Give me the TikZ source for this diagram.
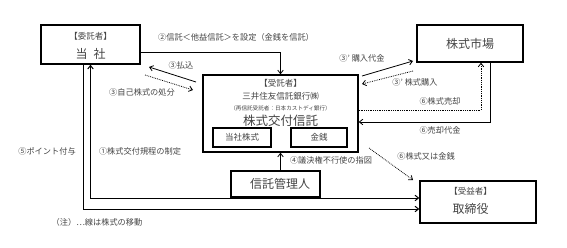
\documentclass[tikz,border=0pt]{standalone}
\usepackage{fontspec}
\setmainfont{Noto Sans CJK JP}
\usepackage{xcolor}
\usetikzlibrary{arrows.meta,positioning}
\definecolor{TrustInk}{HTML}{444444}
\tikzset{
  >={Straight Barb[length=3.5pt,width=5.5pt]},
  partybox/.style={draw, line width=1.4pt, inner sep=0pt},
  assetbox/.style={draw, line width=1.1pt, inner sep=0pt, minimum height=19pt,
                font=\fontsize{8.5}{10}\selectfont, text=TrustInk},
  headtext/.style={inner sep=0pt, font=\fontsize{8.5}{10}\selectfont, text=TrustInk},
  nametext/.style={inner sep=0pt, font=\fontsize{12}{14}\selectfont, text=TrustInk},
  lbl/.style={inner sep=0.5pt, font=\fontsize{8.2}{10}\selectfont, text=TrustInk},
  flow/.style={->, line width=0.8pt},
  twoway/.style={<->, line width=1pt},
  share/.style={->, line width=0.8pt, densely dotted}
}
\begin{document}
\begin{tikzpicture}[x=1pt, y=-1pt]
  \useasboundingbox (0,0) rectangle (567,248);
  % parties
  \node[partybox, minimum width=99pt, minimum height=39pt] (itaku) at (90.5,44.5) {};
  \node[headtext] (itaku-r) at (90.5,36) {【委託者】};
  \node[nametext] (itaku-n) at (90.5,53.5) {当\hspace{0.5em}社};

  \node[partybox, minimum width=155pt, minimum height=77pt] (trust) at (280.5,113.5) {};
  \node[headtext] (trust-r) at (280.5,83) {【受託者】};
  \node[headtext] (trust-b) at (280.5,96) {三井住友信託銀行㈱};
  \node[inner sep=0pt, font=\fontsize{5.6}{6}\selectfont, text=TrustInk] (trust-s) at (280.5,108)
    {（再信託受託者：日本カストディ銀行）};
  \node[nametext, font=\fontsize{12.5}{14}\selectfont] (trust-n) at (280.5,120.5) {株式交付信託};
  \node[assetbox, minimum width=58pt] (stock) at (242,137.5) {当社株式};
  \node[assetbox, minimum width=56pt] (cash) at (319,137.5) {金銭};

  \node[partybox, minimum width=89pt, minimum height=26pt] (kanri) at (275.5,184) {};
  \node[nametext] (kanri-n) at (280,184) {信託管理人};

  \node[partybox, minimum width=106pt, minimum height=37pt] (market) at (470,43.5) {};
  \node[nametext] (market-n) at (470,44) {株式市場};

  \node[partybox, minimum width=116pt, minimum height=42pt] (jueki) at (478,202) {};
  \node[headtext] (jueki-r) at (470.5,191) {【受益者】};
  \node[nametext] (jueki-n) at (470.5,208.5) {取締役};

  % free ends of the slanted connectors
  \coordinate (payA) at (196,82);
  \coordinate (payB) at (149,67);
  \coordinate (ownA) at (145,75);
  \coordinate (ownB) at (193,90);
  \coordinate (buyA) at (362,76);
  \coordinate (buyB) at (413,61);
  \coordinate (getA) at (413,71);
  \coordinate (getB) at (362,84);
  \coordinate (paidA) at (369,148);
  \coordinate (paidB) at (413,180);

  % connectors
  \draw[flow] ([yshift=-7.5pt]itaku.east) -| (trust.north);
  \draw[flow] (payA) -- (payB);
  \draw[share] (ownA) -- (ownB);
  \draw[flow] (buyA) -- (buyB);
  \draw[share] (getA) -- (getB);
  \draw[share] ([yshift=3.5pt]trust.east) -| ([xshift=11pt]market.south);
  \draw[flow] ([xshift=20pt]market.south) |- ([yshift=-8.5pt]trust.east);
  \draw[share] (paidA) -- (paidB);
  \draw[flow] (kanri.north -| trust.south) -- (trust.south);
  \draw[twoway] (itaku.south) |- ([yshift=4pt]jueki.west);
  \draw[->, line width=1pt] ([xshift=-7.5pt]itaku.south) |- ([yshift=-7pt]jueki.west);

  % labels
  \node[lbl] (l-set) at (236,37) {②信託＜他益信託＞を設定（金銭を信託）};
  \node[lbl] (l-pay) at (181,65) {③払込};
  \node[lbl] (l-own) at (142,92) {③自己株式の処分};
  \node[lbl] (l-buy) at (362,58) {③’ 購入代金};
  \node[lbl] (l-get) at (415,82) {③’ 株式購入};
  \node[lbl] (l-sell) at (440,101) {⑥株式売却};
  \node[lbl] (l-sold) at (440,130) {⑥売却代金};
  \node[lbl] (l-paid) at (426,156) {⑥株式又は金銭};
  \node[lbl] (l-vote) at (331,160) {④議決権不行使の指図};
  \node[lbl] (l-point) at (47,151) {⑤ポイント付与};
  \node[lbl] (l-rule) at (140,151) {①株式交付規程の制定};
  \node[lbl] (l-note) at (97,222) {（注）⋯線は株式の移動};
\end{tikzpicture}
\end{document}
